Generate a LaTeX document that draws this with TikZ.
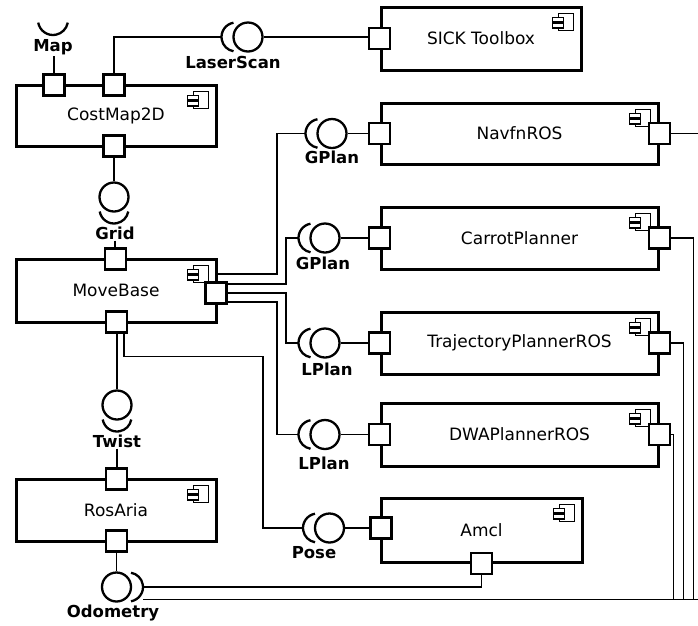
\documentclass[tikz,border=0pt]{standalone}
\usepackage{fontspec}
\setmainfont{DejaVu Sans}
\begin{document}
\begin{tikzpicture}[x=1pt,y=1pt,
  comp/.style={draw, line width=3pt, minimum height=62pt, inner sep=0pt, fill=white, font=\fontsize{17}{20}\selectfont},
  port/.style={draw, line width=2.7pt, fill=white, minimum size=21pt, inner sep=0pt},
  ball/.style={draw, circle, line width=2.3pt, minimum size=29pt, inner sep=0pt},
  sock/.style={line width=2.3pt},
  conn/.style={line width=1.5pt},
  bus/.style={line width=1.9pt},
  lbl/.style={font=\fontsize{16.5}{19}\selectfont\bfseries, inner sep=1pt},
  cicon/.pic={
    \draw[line width=1.3pt] (-15,0) rectangle (0,-17);
    \draw[line width=1.3pt, fill=white] (-21,-4) rectangle (-10,-8.5);
    \draw[line width=1.3pt, fill=white] (-21,-10) rectangle (-10,-14.5);
  }
]
\useasboundingbox (0,0) rectangle (698,-625);

% components
\node[comp, minimum width=200pt, minimum height=61pt] (cm) at (116,-115.5) {CostMap2D};
\node[comp, minimum width=200pt, minimum height=63pt] (sick) at (481,-38.5) {SICK Toolbox};
\node[comp, minimum width=277pt, minimum height=61pt] (nav) at (519.5,-133.5) {NavfnROS};
\node[comp, minimum width=277pt] (car) at (519.5,-238) {CarrotPlanner};
\node[comp, minimum width=277pt] (traj) at (519.5,-343) {TrajectoryPlannerROS};
\node[comp, minimum width=277pt, minimum height=63pt] (dwa) at (519.5,-434.5) {DWAPlannerROS};
\node[comp, minimum width=201pt, minimum height=64pt] (amcl) at (481.5,-530) {Amcl};
\node[comp, minimum width=200pt, minimum height=63pt] (mb) at (116,-290.5) {MoveBase};
\node[comp, minimum width=200pt] (ra) at (116,-510) {RosAria};

% component icons
\foreach \b in {cm,sick,nav,car,traj,dwa,amcl,mb,ra}
  \pic at ([shift={(-9,-8)}]\b.north east) {cicon};

% ports
\node[port] (cmM) at (54,-85) {};
\node[port] (cmL) at (114,-85) {};
\node[port] (cmB) at (114,-146) {};
\node[port] (sickP) at (sick.west) {};
\node[port] (navL) at (nav.west) {};
\node[port] (navR) at (nav.east) {};
\node[port] (carL) at (car.west) {};
\node[port] (carR) at (car.east) {};
\node[port] (trajL) at (traj.west) {};
\node[port] (trajR) at (traj.east) {};
\node[port] (dwaL) at (dwa.west) {};
\node[port] (dwaR) at (dwa.east) {};
\node[port] (amclL) at (381,-528) {};
\node[port] (amclB) at (amcl.south) {};
\node[port] (mbT) at (115.5,-259) {};
\node[port] (mbR) at (216,-293) {};
\node[port] (mbB) at (116.5,-322) {};
\node[port] (raT) at (116.5,-479) {};
\node[port] (raB) at (116.5,-541) {};

% Map (required only)
\draw[sock] (53,-20) ++(190:15) arc[start angle=190, end angle=350, radius=15];
\node[lbl] (mapl) at (53,-47) {Map};
\draw[conn] (cmM.north) -- (cmM.north |- mapl.south);

% LaserScan
\node[ball] (lsB) at (248,-37) {};
\draw[sock] ([xshift=-12pt]lsB.center) ++(100:14.5) arc[start angle=100, end angle=260, radius=14.5];
\coordinate (lsS) at ([xshift=-26.5pt]lsB.center);
\node[lbl] (lsl) at (233,-62) {LaserScan};
\draw[conn] (cmL.north) |- (lsS);
\draw[conn] (lsB.east) -- (lsB.east -| sickP.west);

% Grid
\node[ball] (grB) at (114,-197) {};
\draw[sock] ([yshift=-12pt]grB.center) ++(190:14.5) arc[start angle=190, end angle=350, radius=14.5];
\node[lbl] (grl) at (115,-233) {Grid};
\draw[conn] (cmB.south) -- (grB.north);
\draw[conn] (grl.south) -- (grl.south |- mbT.north);

% Twist
\node[ball] (twB) at (117,-405) {};
\draw[sock] ([yshift=-12pt]twB.center) ++(190:14.5) arc[start angle=190, end angle=350, radius=14.5];
\node[lbl] (twl) at (117,-441) {Twist};
\draw[conn] (twB.north) -- (twB.north |- mbB.south);
\draw[conn] (twl.south) -- (twl.south |- raT.north);

% Odometry
\node[ball] (odB) at (116.5,-587) {};
\draw[sock] ([xshift=12pt]odB.center) ++(-80:14.5) arc[start angle=-80, end angle=80, radius=14.5];
\node[lbl] (odl) at (113,-613) {Odometry};
\draw[conn] (raB.south) -- (odB.north);
\coordinate (odS) at ([xshift=26.5pt]odB.center);
\coordinate (odS2) at (143,-599.5);
\coordinate (busE) at (702,-599.5);
\draw[conn] (odS) -| (amclB.south);
\draw[bus] (odS2) -- (busE);

% right side returns
\coordinate (b1) at (701,-599.5);
\coordinate (b2) at (693.5,-599.5);
\coordinate (b3) at (683.5,-599.5);
\coordinate (b4) at (673.5,-599.5);
\draw[conn] (navR.east) -| (b1);
\draw[conn] (carR.east) -| (b2);
\draw[conn] (trajR.east) -| (b3);
\draw[conn] (dwaR.east) -| (b4);

% GPlan / LPlan / Pose interfaces
\node[ball] (gAB) at (332,-133.5) {};
\node[ball] (gBB) at (325,-238) {};
\node[ball] (lAB) at (325,-343) {};
\node[ball] (lBB) at (325,-434.5) {};
\node[ball] (poB) at (329.5,-528) {};
\foreach \n in {gAB,gBB,lAB,lBB,poB}
  \draw[sock] ([xshift=-12pt]\n.center) ++(100:14.5) arc[start angle=100, end angle=260, radius=14.5];
\coordinate (gAs) at ([xshift=-26.5pt]gAB.center);
\coordinate (gBs) at ([xshift=-26.5pt]gBB.center);
\coordinate (lAs) at ([xshift=-26.5pt]lAB.center);
\coordinate (lBs) at ([xshift=-26.5pt]lBB.center);
\coordinate (pos) at ([xshift=-26.5pt]poB.center);
\node[lbl] at (332,-157) {GPlan};
\node[lbl] at (323,-263) {GPlan};
\node[lbl] at (327,-369) {LPlan};
\node[lbl] at (324,-463) {LPlan};
\node[lbl] at (314,-553) {Pose};
\draw[conn] (gAB.east) -- (gAB.east -| navL.west);
\draw[conn] (gBB.east) -- (gBB.east -| carL.west);
\draw[conn] (lAB.east) -- (lAB.east -| trajL.west);
\draw[conn] (lBB.east) -- (lBB.east -| dwaL.west);
\draw[conn] (poB.east) -- (poB.east -| amclL.west);

% MoveBase connections
\coordinate (mbo) at (216,-274);
\draw[conn] (mbo) -| ([xshift=-28.5pt]gAs) -- (gAs);
\draw[conn] ([yshift=9pt]mbR.east) -| ([xshift=-12.5pt]gBs) -- (gBs);
\draw[conn] (mbR.east) -| ([xshift=-12.5pt]lAs) -- (lAs);
\draw[conn] ([yshift=-9pt]mbR.east) -| ([xshift=-21.5pt]lBs) -- (lBs);
\draw[conn] ([xshift=7.5pt]mbB.south) -- ++(0,-22.5) -| ([xshift=-40pt]pos) -- (pos);
\end{tikzpicture}
\end{document}
